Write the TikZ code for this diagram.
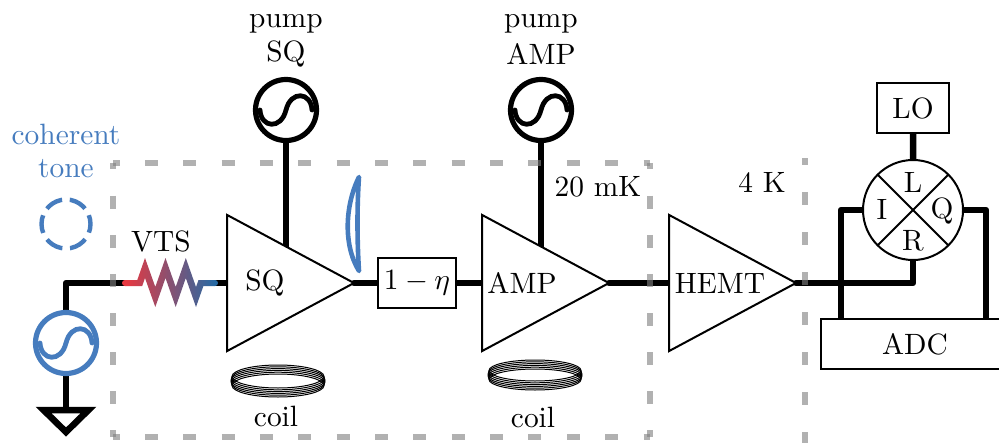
\documentclass[tikz,border=0pt]{standalone}
\usetikzlibrary{shapes.geometric,backgrounds}
\definecolor{toneblue}{RGB}{70,124,190}
\definecolor{vtsred}{RGB}{232,56,64}
\definecolor{vtsblue}{RGB}{38,106,164}
\definecolor{wallgray}{RGB}{129,129,129}
\tikzset{
  wire/.style={line width=3.25pt, line cap=round, line join=round},
  wall/.style={wallgray, opacity=0.62, line width=3pt},
  lab/.style={scale=1.47},
  thinbox/.style={draw, line width=1pt, fill=white, inner sep=0pt, outer sep=0pt},
  srcnode/.style={circle, draw=#1, line width=2.6pt, minimum size=30.5pt, inner sep=0pt, outer sep=0pt},
  ampl/.style={isosceles triangle, isosceles triangle apex angle=56.4, draw, line width=1pt, fill=white, minimum height=63.5pt, inner sep=0pt, outer sep=0pt, anchor=lower side},
  coilring/.style={line width=0.5pt},
  pics/sinewave/.style={code={\draw[line width=2.4pt, line cap=round, #1] (-26,0) .. controls (-25,18) and (-5,20) .. (0,0) .. controls (5,-20) and (25,-18) .. (26,0);}}
}
\begin{document}
\begin{tikzpicture}[x=0.5pt, y=-0.5pt]
\useasboundingbox (0,0) rectangle (999,443);

\node[srcnode=toneblue, fill=white] (tone) at (66,343) {};
\node[circle, draw=toneblue, line width=2.2pt, minimum size=24.5pt, inner sep=0pt, dash pattern=on 9pt off 3.83pt, dash phase=4.5pt] (ghost) at (66,224) {};
\node[srcnode=black, fill=white] (pumpsq) at (286,110) {};
\node[srcnode=black, fill=white] (pumpamp) at (541,110) {};
\node[ampl] (sq) at (227,283) {};
\node[ampl] (amp) at (482,283) {};
\node[ampl] (hemt) at (669,283) {};
\node[thinbox, lab, minimum width=26.5pt, minimum height=17pt] (loss) at (417,283) {$1-\eta$};
\node[thinbox, lab, minimum width=24.8pt, minimum height=17.3pt] (lo) at (913,108) {LO};
\node[thinbox, lab, minimum width=64pt, minimum height=17.3pt] (adc) at (915,344) {ADC};
\node[thinbox, circle, minimum size=50pt] (mix) at (913,210) {};

\coordinate (gnd) at (66,410);
\coordinate (corner) at (66,283);
\coordinate (vtsin) at (125,283);
\coordinate (vtsout) at (215,283);
\coordinate (rturn) at (913,283);
\coordinate (iturn) at (841,210);
\coordinate (qturn) at (986,210);

\begin{scope}[on background layer]
\draw[wire] (tone) -- (corner) -- (vtsin);
\draw[wire] (tone) -- (gnd);
\draw[wire] (vtsout) -- (sq.lower side);
\draw[wire] (pumpsq) -- (286,250);
\draw[wire] (pumpamp) -- (541,250);
\draw[wire] (sq.apex) -- (loss);
\draw[wire] (loss) -- (amp.lower side);
\draw[wire] (amp.apex) -- (hemt.lower side);
\draw[wire] (hemt.apex) -- (rturn) -- (mix);
\draw[wire] (mix) -- (lo);
\draw[wire] (mix) -- (iturn) -- (iturn |- adc.north);
\draw[wire] (mix) -- (qturn) -- (qturn |- adc.north);
\end{scope}

\draw[line width=1pt] (mix.45) -- (mix.225);
\draw[line width=1pt] (mix.135) -- (mix.315);
\node[lab] (portl) at (913,182) {L};
\node[lab] (porti) at (882,209) {I};
\node[lab] (portq) at (942,211) {Q};
\node[lab] (portr) at (913,241) {R};

\draw[line width=3.25pt, line join=miter, fill=white] (43.5,410) -- (88.5,410) -- (66,432) -- cycle;

\pic at (tone) {sinewave=toneblue};
\pic at (pumpsq) {sinewave=black};
\pic at (pumpamp) {sinewave=black};

\fill[vtsred] (125,283) circle (3);
\fill[vtsblue] (215,283) circle (3);
\shade[left color=vtsred, right color=vtsblue] (125,280) -- (137.3,280) -- (145,258) -- (155.3,287) -- (165.5,258) -- (175.7,287) -- (185.8,258) -- (196,287) -- (198.5,280) -- (215,280) -- (215,286) -- (203.4,286) -- (196,307) -- (185.8,278) -- (175.7,307) -- (165.5,278) -- (155.3,307) -- (145,278) -- (142.2,286) -- (125,286) -- cycle;

\draw[toneblue, line width=2.3pt, line join=round] (359,177) .. controls (345,205) and (343,245) .. (359,271) .. controls (357,240) and (357,205) .. (359,177) -- cycle;

\draw[coilring] (278,376.5) ellipse (46 and 11.5);
\draw[coilring] (278,378.3) ellipse (46.5 and 11.5);
\draw[coilring] (278,380.1) ellipse (47 and 11.5);
\draw[coilring] (278,381.9) ellipse (47 and 11.5);
\draw[coilring] (278,383.7) ellipse (46.5 and 11.5);
\draw[coilring] (278,385.5) ellipse (46 and 11.5);
\draw[coilring] (535,370.5) ellipse (46 and 10.5);
\draw[coilring] (535,372.3) ellipse (46.5 and 10.5);
\draw[coilring] (535,374.1) ellipse (47 and 10.5);
\draw[coilring] (535,375.9) ellipse (47 and 10.5);
\draw[coilring] (535,377.7) ellipse (46.5 and 10.5);
\draw[coilring] (535,379.5) ellipse (46 and 10.5);

\node[lab] (sqlabel) at (265,283) {SQ};
\node[lab] (amplabel) at (522,283) {AMP};
\node[lab] (hemtlabel) at (720,283) {HEMT};
\node[lab] (vtslabel) at (161,241) {VTS};
\node[lab] (pumpa) at (286,24) {pump};
\node[lab] (pumpb) at (286,54) {SQ};
\node[lab] (pumpc) at (541,24) {pump};
\node[lab] (pumpd) at (541,54) {AMP};
\node[lab, text=toneblue] (tonea) at (66,134) {coherent};
\node[lab, text=toneblue] (toneb) at (66,169) {tone};
\node[lab] (coila) at (276,416) {coil};
\node[lab] (coilb) at (533,417) {coil};
\node[lab] (cold) at (598,187) {20 mK};
\node[lab] (still) at (762,182) {4 K};

\draw[wall, dash pattern=on 6.5pt off 12.68pt, dash phase=3.25pt] (113,163) -- (650,163);
\draw[wall, dash pattern=on 6.5pt off 12.68pt, dash phase=3.25pt] (113,437) -- (650,437);
\draw[wall, dash pattern=on 6.5pt off 13.07pt, dash phase=3.25pt] (113,163) -- (113,437);
\draw[wall, dash pattern=on 6.5pt off 13.07pt, dash phase=3.25pt] (650,163) -- (650,437);
\draw[wall, dash pattern=on 6.5pt off 13.5pt, dash phase=3.25pt] (805,158.5) -- (805,443);
\end{tikzpicture}
\end{document}
